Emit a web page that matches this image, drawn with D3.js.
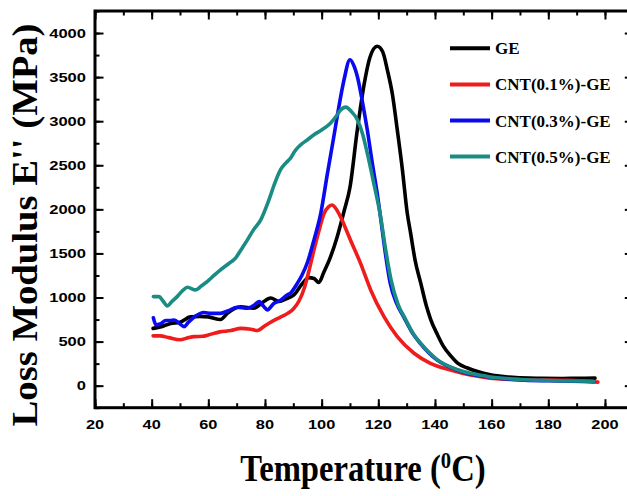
<!DOCTYPE html>
<html>
<head>
<meta charset="utf-8">
<script src="https://cdn.jsdelivr.net/npm/d3@7"></script>
<style>
  html, body { margin: 0; padding: 0; background: #fff; }
  svg { display: block; }
</style>
</head>
<body>
<svg id="chart" width="627" height="496"></svg>
<script>
// Loss modulus E'' vs temperature for neat GE and CNT-filled GE
const seriesNames = ["GE", "CNT(0.1%)-GE", "CNT(0.3%)-GE", "CNT(0.5%)-GE"];
const seriesColors = ["#000000", "#ee1c1c", "#0a0af0", "#1a8c84"];

const tempGE = [40.5, 43, 46.7, 50, 53.7, 57, 60, 64.3, 66.7, 71.4, 76, 79, 82, 85, 87.5, 90.2, 93, 95.5, 97.3, 99, 100.8, 103, 105.5, 108, 110, 112.5, 115, 117, 119.6, 121.5, 123.2, 125, 126.7, 128.5, 130.2, 131.4, 133, 135, 137, 138.5, 141, 143, 145.5, 148, 151.5, 155, 160, 165, 170, 176, 185, 190, 196.5];
const lossGE = [650, 665, 705, 720, 780, 785, 780, 750, 820, 895, 880, 940, 995, 955, 985, 1030, 1150, 1225, 1215, 1170, 1290, 1450, 1690, 1990, 2250, 2880, 3420, 3720, 3850, 3790, 3580, 3300, 2900, 2450, 1960, 1730, 1420, 1160, 900, 750, 570, 445, 340, 255, 200, 160, 120, 100, 90, 84, 82, 84, 85];

const tempC01 = [40.5, 43, 46, 50, 53, 55, 58, 60, 64, 68, 71.5, 75, 77.3, 80, 82, 85, 88, 90, 92, 94, 95.5, 97.3, 99, 100.8, 102.5, 103.7, 105, 106.6, 108.5, 110.2, 113.7, 117.3, 122, 126.7, 132.6, 138.4, 145.5, 152.5, 164.3, 176, 187, 197.5];
const lossC01 = [565, 565, 545, 520, 545, 556, 560, 575, 610, 625, 650, 640, 625, 680, 720, 770, 820, 870, 960, 1120, 1300, 1540, 1750, 1950, 2030, 2050, 2010, 1920, 1780, 1650, 1390, 1086, 783, 556, 368, 254, 178, 121, 73, 65, 60, 40];

const tempC03 = [40.6, 41.5, 43, 45, 46.5, 48, 50, 51.4, 53, 55.5, 58.4, 61, 64.3, 67, 70.2, 73.8, 76, 77.9, 79.5, 80.8, 83.2, 85, 87.9, 89, 91.4, 93, 95, 97.3, 99.7, 102, 104.3, 106, 107.9, 110, 111.5, 112.6, 114.5, 116.1, 118, 119.6, 120.7, 122.5, 124.2, 126.5, 128.9, 132, 134.8, 140.7, 147.8, 152, 158.4, 170.2, 180, 196];
const lossC03 = [770, 690, 700, 740, 740, 745, 700, 670, 720, 790, 830, 820, 820, 850, 890, 878, 910, 953, 900, 860, 935, 960, 1030, 1050, 1160, 1250, 1400, 1654, 1957, 2400, 2826, 3150, 3470, 3697, 3620, 3507, 3200, 2902, 2500, 2184, 1930, 1500, 1162, 930, 783, 600, 481, 292, 178, 135, 102, 65, 55, 45];

const tempC05 = [40.6, 42.6, 44, 45.5, 47, 49, 51, 52.6, 55.5, 57.5, 59.6, 62, 64.3, 67, 69.6, 71.5, 73.8, 76, 78.5, 81.4, 83.5, 85.5, 87.5, 89, 90.5, 92.6, 95, 97.3, 100, 103.1, 105, 106.5, 108.5, 110.5, 112.6, 114.5, 116.1, 118.5, 120.8, 122.5, 124.5, 127, 129.5, 132.5, 135.5, 141, 148, 158.5, 170, 180, 196];
const lossC05 = [1010, 1010, 960, 905, 950, 1010, 1080, 1117, 1086, 1130, 1180, 1250, 1313, 1380, 1446, 1540, 1654, 1770, 1881, 2108, 2300, 2450, 2530, 2580, 2660, 2732, 2790, 2846, 2900, 2978, 3050, 3120, 3160, 3110, 3016, 2850, 2638, 2280, 1918, 1560, 1200, 920, 760, 580, 460, 290, 180, 105, 70, 58, 50];

const xTicks = [20, 40, 60, 80, 100, 120, 140, 160, 180, 200];
const yTicks = [0, 500, 1000, 1500, 2000, 2500, 3000, 3500, 4000];

const series = [
  { name: seriesNames[0], color: seriesColors[0], t: tempGE, v: lossGE },
  { name: seriesNames[1], color: seriesColors[1], t: tempC01, v: lossC01 },
  { name: seriesNames[2], color: seriesColors[2], t: tempC03, v: lossC03 },
  { name: seriesNames[3], color: seriesColors[3], t: tempC05, v: lossC05 }
];

const svg = d3.select("#chart");
const x = d3.scaleLinear().domain([20, 210]).range([95, 633.3]);
const y = d3.scaleLinear().domain([-250, 4250]).range([407.7, 11]);

const plotW = x.range()[1] - x.range()[0];
const plotH = y.range()[0] - y.range()[1];
const frameBottom = y.range()[0], frameTop = y.range()[1];
const frameLeft = x.range()[0], frameRight = x.range()[1];

svg.append("defs").append("clipPath").attr("id", "plot-clip")
  .append("rect").attr("x", frameLeft).attr("y", frameTop).attr("width", plotW).attr("height", plotH);

// curves
const line = d3.line()
  .x(d => x(d[0]))
  .y(d => y(d[1]))
  .curve(d3.curveMonotoneX);

const curves = svg.append("g").attr("clip-path", "url(#plot-clip)");
series.forEach(s => {
  curves.append("path")
    .datum(s.t.map((t, i) => [t, s.v[i]]))
    .attr("fill", "none")
    .attr("stroke", s.color)
    .attr("stroke-width", 3.6)
    .attr("stroke-linejoin", "round")
    .attr("stroke-linecap", "round")
    .attr("d", line);
});

// axes: ticks inside the frame on all four sides
const xMinor = d3.range(20, 211, 10);
const yMinor = d3.range(-250, 4251, 250);
const noLabel = () => "";

function styleAxis(g) {
  g.select(".domain").remove();
  g.selectAll(".tick line").attr("stroke", "#000").attr("stroke-width", 2);
}

function addAxis(axisFn, scale, values, size, tx, ty) {
  svg.append("g").attr("transform", `translate(${tx},${ty})`)
    .call(axisFn(scale).tickValues(values).tickSize(size).tickFormat(noLabel))
    .call(styleAxis);
}

addAxis(d3.axisBottom, x, xMinor, -4.5, 0, frameBottom);
addAxis(d3.axisBottom, x, xTicks, -8.5, 0, frameBottom);
addAxis(d3.axisTop, x, xMinor, -4.5, 0, frameTop);
addAxis(d3.axisTop, x, xTicks, -8.5, 0, frameTop);
addAxis(d3.axisLeft, y, yMinor, -4.5, frameLeft, 0);
addAxis(d3.axisLeft, y, yTicks, -8.5, frameLeft, 0);
addAxis(d3.axisRight, y, yMinor, -4.5, frameRight, 0);
addAxis(d3.axisRight, y, yTicks, -8.5, frameRight, 0);

// frame
svg.append("rect")
  .attr("x", frameLeft).attr("y", frameTop).attr("width", plotW).attr("height", plotH)
  .attr("fill", "none").attr("stroke", "#000").attr("stroke-width", 3);

// tick labels
const labelFont = "'Liberation Sans', Arial, sans-serif";
svg.append("g").selectAll("text").data(xTicks).join("text")
  .attr("x", d => x(d)).attr("y", 429)
  .attr("text-anchor", "middle")
  .attr("font-family", labelFont).attr("font-weight", "bold").attr("font-size", 13.5)
  .attr("textLength", d => String(d).length * 9.1)
  .attr("lengthAdjust", "spacingAndGlyphs")
  .text(d => d);

svg.append("g").selectAll("text").data(yTicks).join("text")
  .attr("x", 86).attr("y", d => y(d) + 4.8)
  .attr("text-anchor", "end")
  .attr("font-family", labelFont).attr("font-weight", "bold").attr("font-size", 13.5)
  .attr("textLength", d => String(d).length * 9.2)
  .attr("lengthAdjust", "spacingAndGlyphs")
  .text(d => d);

// axis titles
const titleFont = "'Liberation Serif', 'Times New Roman', serif";
const xTitle = svg.append("text")
  .attr("transform", "translate(363,481) scale(0.86,1)")
  .attr("text-anchor", "middle")
  .attr("font-family", titleFont).attr("font-weight", "bold").attr("font-size", 38);
xTitle.append("tspan").text("Temperature (");
xTitle.append("tspan").attr("font-size", 24).attr("dy", -13).text("0");
xTitle.append("tspan").attr("dy", 13).text("C)");

svg.append("text")
  .attr("transform", "translate(37,225) rotate(-90)")
  .attr("text-anchor", "middle")
  .attr("font-family", titleFont).attr("font-weight", "bold").attr("font-size", 35)
  .attr("textLength", 403).attr("lengthAdjust", "spacingAndGlyphs")
  .text("Loss Modulus E'' (MPa)");

// legend
const legend = svg.append("g");
series.forEach((s, i) => {
  const ly = 48.3 + i * 36.1;
  legend.append("line")
    .attr("x1", 450).attr("x2", 490).attr("y1", ly).attr("y2", ly)
    .attr("stroke", s.color).attr("stroke-width", 4);
  legend.append("text")
    .attr("x", 495).attr("y", ly + 6)
    .attr("font-family", titleFont).attr("font-weight", "bold").attr("font-size", 17)
    .text(s.name);
});
</script>
</body>
</html>
